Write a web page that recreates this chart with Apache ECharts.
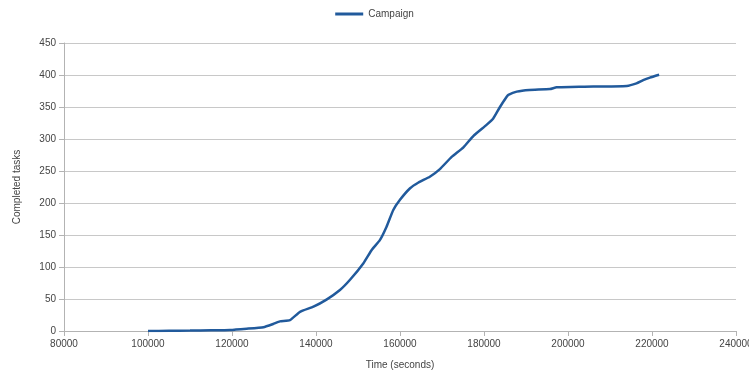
<!DOCTYPE html>
<html><head><meta charset="utf-8">
<script src="https://cdn.jsdelivr.net/npm/echarts@6/dist/echarts.min.js"></script>
<style>html,body{margin:0;padding:0;background:#fff}#c{width:749px;height:376px}</style>
</head><body><div id="c"></div>
<script>
const seriesName = "Campaign";
const times = [100000,105000,110000,115000,119500,123500,127500,129800,131400,133800,136200,139400,142500,145700,148100,151300,153300,155200,156800,158400,160000,162400,164400,167100,169500,172300,175100,177500,180600,182200,183800,185400,185800,187800,190800,195700,197300,203600,214000,216300,217900,219500,221700];
const counts = [0,0.3,0.6,1,1.5,3.5,6,11,15,17,30,38,49,64,80,106,127,142,163,189,205,223,232,241,253,272,287,305,322,332,350,366,369,374,376.6,378,380.7,381.7,383,387,392,396,400.5];
const xTicks = {min:80000, max:240000, interval:20000};
const yTicks = {min:0, max:450, interval:50};
const data = times.map((t,i)=>[t,counts[i]]);
const chart = echarts.init(document.getElementById('c'), null, {renderer:'canvas'});
const txt = {color:'#444', fontFamily:'Liberation Sans, DejaVu Sans, sans-serif', fontSize:10};
chart.setOption({
  animation:false,
  legend:{top:4, left:'center', itemWidth:28, itemHeight:3, textStyle:Object.assign({},txt), data:[{name:seriesName, icon:'rect'}]},
  grid:{left:64, right:13, top:43, bottom:45, containLabel:false, outerBoundsMode:'none'},
  xAxis:{type:'value', min:xTicks.min, max:xTicks.max, interval:xTicks.interval,
    name:'Time (seconds)', nameLocation:'middle', nameGap:29, nameTextStyle:Object.assign({},txt),
    axisLine:{lineStyle:{color:'#b3b3b3'}}, axisTick:{show:true, length:5, lineStyle:{color:'#b3b3b3'}},
    axisLabel:Object.assign({margin:8, formatter:v=>String(v)},txt), splitLine:{show:false}},
  yAxis:{type:'value', min:yTicks.min, max:yTicks.max, interval:yTicks.interval,
    name:'Completed tasks', nameLocation:'middle', nameGap:42, nameRotate:90, nameTextStyle:Object.assign({},txt),
    axisLine:{show:true, lineStyle:{color:'#b3b3b3'}}, axisTick:{show:true, length:5, lineStyle:{color:'#b3b3b3'}},
    axisLabel:Object.assign({margin:8},txt), splitLine:{show:true, lineStyle:{color:'#c8c8c8'}}},
  series:[{name:seriesName, type:'line', data:data, showSymbol:false, symbol:'none', smooth:0.15,
    lineStyle:{color:'#215a9c', width:2.5}, itemStyle:{color:'#215a9c'}}]
});
</script></body></html>
